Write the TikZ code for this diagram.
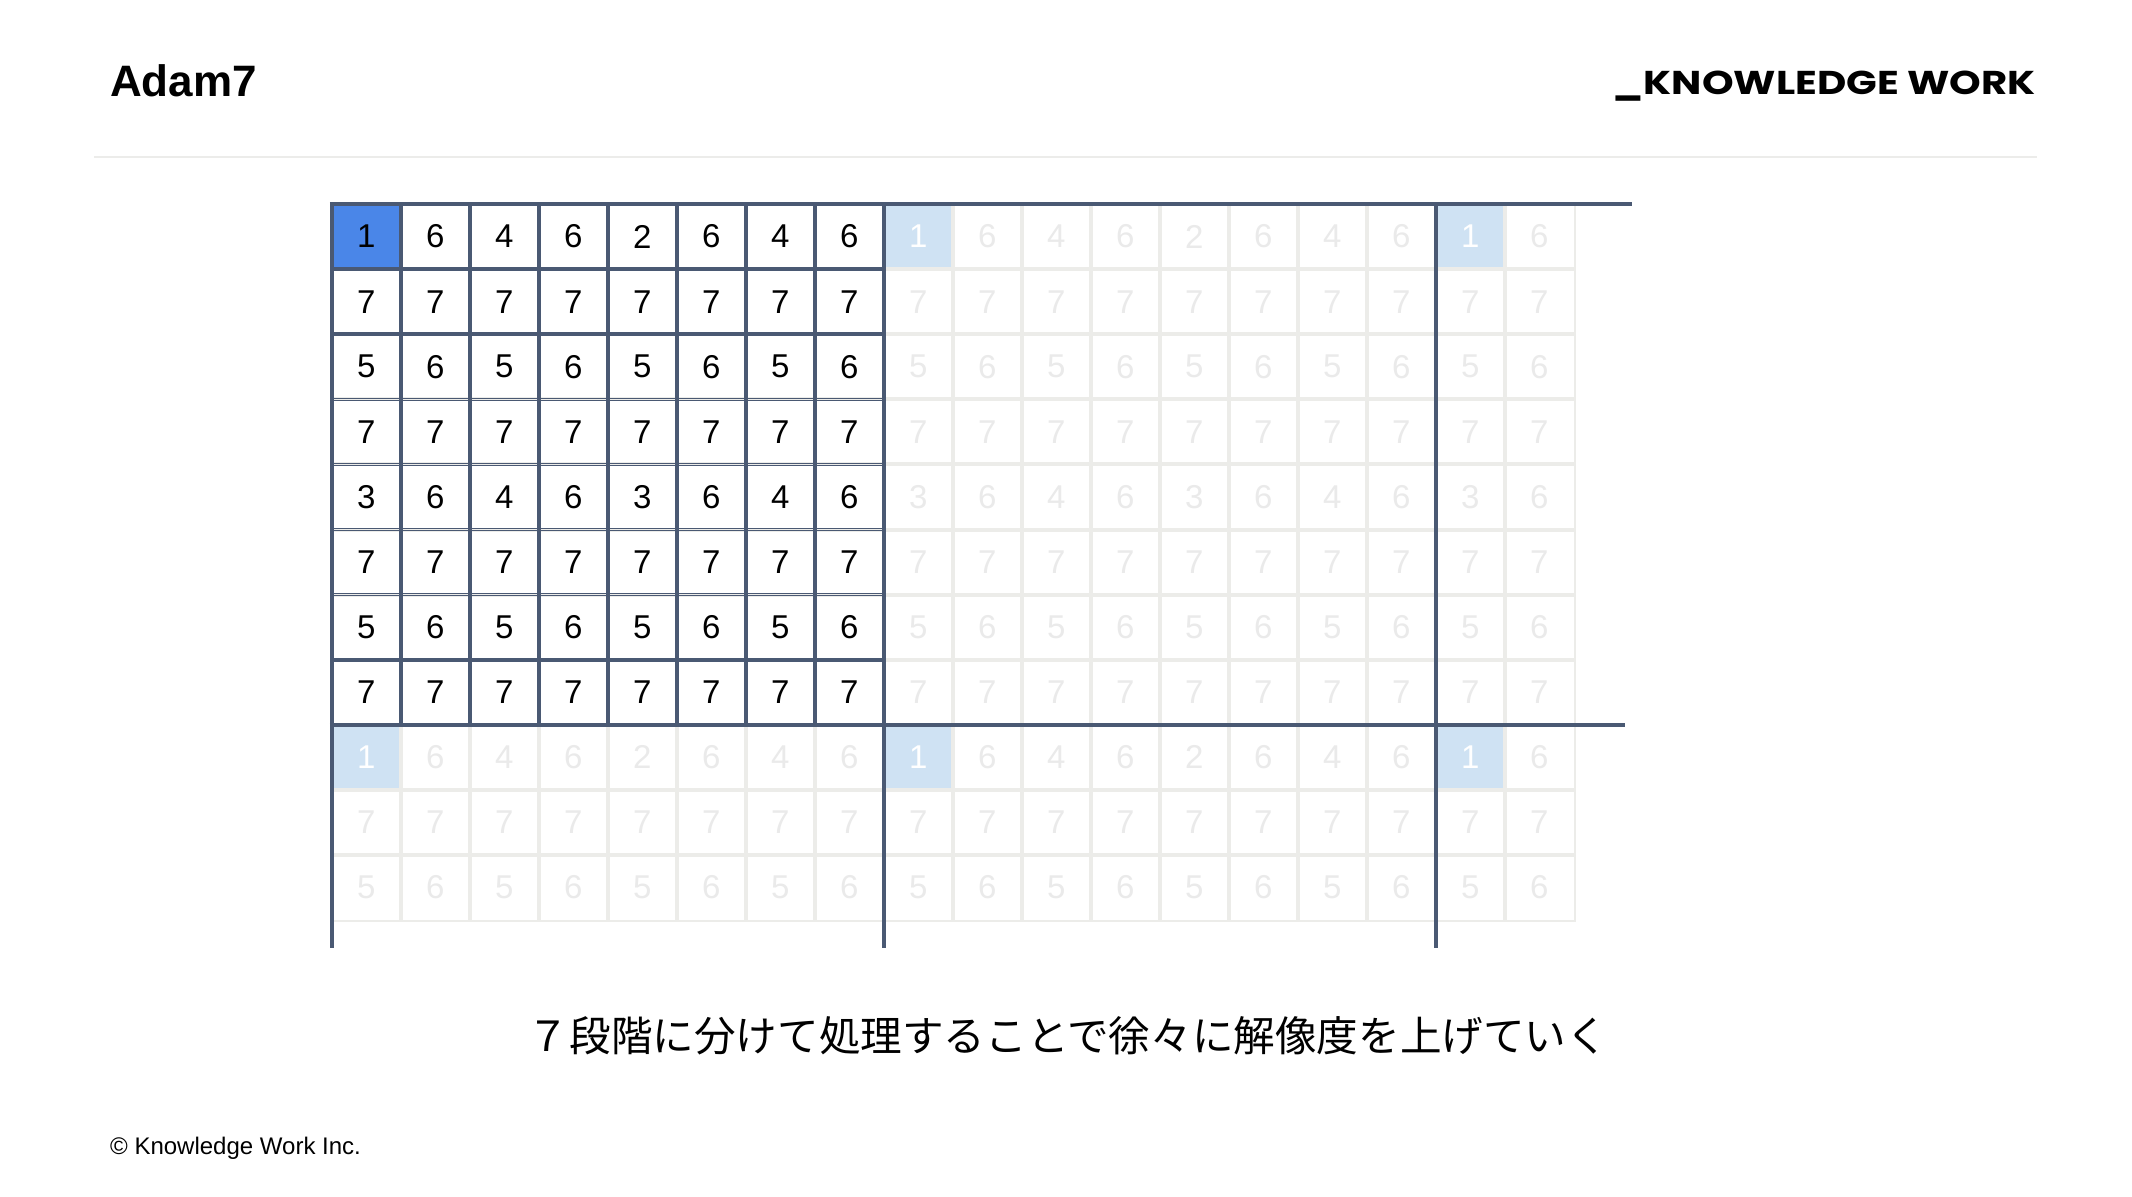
\documentclass[tikz,border=0pt]{standalone}
\usepackage{fontspec}
\setmainfont{Liberation Sans}
\newfontfamily\jpfont{Noto Sans CJK JP}
\newfontfamily\kwfont{Poppins}
\definecolor{hiblue}{HTML}{4A86E8}
\definecolor{paleblue}{HTML}{CFE2F3}
\definecolor{slate}{RGB}{74,89,115}
\definecolor{lightgrid}{RGB}{236,236,233}
\definecolor{fadetxt}{RGB}{234,234,234}
\definecolor{sepgrey}{RGB}{236,236,234}
\tikzset{
  cell/.style={minimum width=69pt, minimum height=65.1pt, inner sep=0pt, line width=2pt, font=\fontsize{33}{40}\selectfont},
  thick line/.style={draw=slate, line width=4pt},
}
\begin{document}
\begin{tikzpicture}[x=1pt,y=-1pt]
\useasboundingbox[fill=white] (0,0) rectangle (2132,1196);
% title and header
\node[anchor=base west, inner sep=0pt] (title) at (110,97) {\fontsize{44}{52}\selectfont\bfseries Adam7};
\node[anchor=base east, inner sep=0pt] (logo) at (2036,95) {\scalebox{1.22}[1]{\kwfont\bfseries\fontsize{33}{40}\selectfont \_KNOWLEDGE WORK}};
\draw[sepgrey, line width=2.5pt] (94,157) -- (2037,157);
% cells
\foreach \r in {0,...,10}{
  \foreach \c in {0,...,17}{
    \pgfmathtruncatemacro\v{mod(\r,2)==1 ? 7 : (mod(\c,2)==1 ? 6 : (mod(\r,4)==2 ? 5 : (mod(\c,4)==2 ? 4 : (mod(\r,8)==4 ? 3 : (mod(\c,8)==0 ? 1 : 2)))))}
    \pgfmathtruncatemacro\dk{(\r<8)&&(\c<8) ? 1 : 0}
    \ifnum\dk=1
      \def\tc{black}
      \ifnum\v=1 \def\fc{hiblue}\else\def\fc{white}\fi
    \else
      \ifnum\v=1 \def\fc{paleblue}\def\tc{white}\else\def\fc{white}\def\tc{fadetxt}\fi
    \fi
    \node[cell, fill=\fc, text=\tc] (c-\r-\c) at ({331.8+69*(\c+0.5)},{204+65.1*(\r+0.5)}) {\v};
  }
}
% light borders, then dark borders of the first block
\foreach \r in {0,...,10}{
  \foreach \c in {0,...,17}{
    \draw[lightgrid, line width=2pt] (c-\r-\c.north west) rectangle (c-\r-\c.south east);
  }
}
\foreach \r in {0,...,7}{
  \foreach \c in {0,...,7}{
    \draw[slate, line width=1.6pt] (c-\r-\c.north west) rectangle (c-\r-\c.south east);
  }
}
% thick block lines
\draw[thick line] (331.8,202) -- (331.8,948);
\draw[thick line] (883.8,202) -- (883.8,948);
\draw[thick line] (1435.8,202) -- (1435.8,948);
\draw[thick line] (329.8,204) -- (1632,204);
\draw[thick line] (329.8,724.8) -- (1625,724.8);
% caption
\node[anchor=center, inner sep=0pt] (caption) at (1068,1036) {\jpfont\fontsize{41.6}{50}\selectfont ７段階に分けて処理することで徐々に解像度を上げていく};
\node[anchor=base west, inner sep=0pt] (footer) at (110,1154) {\fontsize{24}{29}\selectfont © Knowledge Work Inc.};
\end{tikzpicture}
\end{document}
